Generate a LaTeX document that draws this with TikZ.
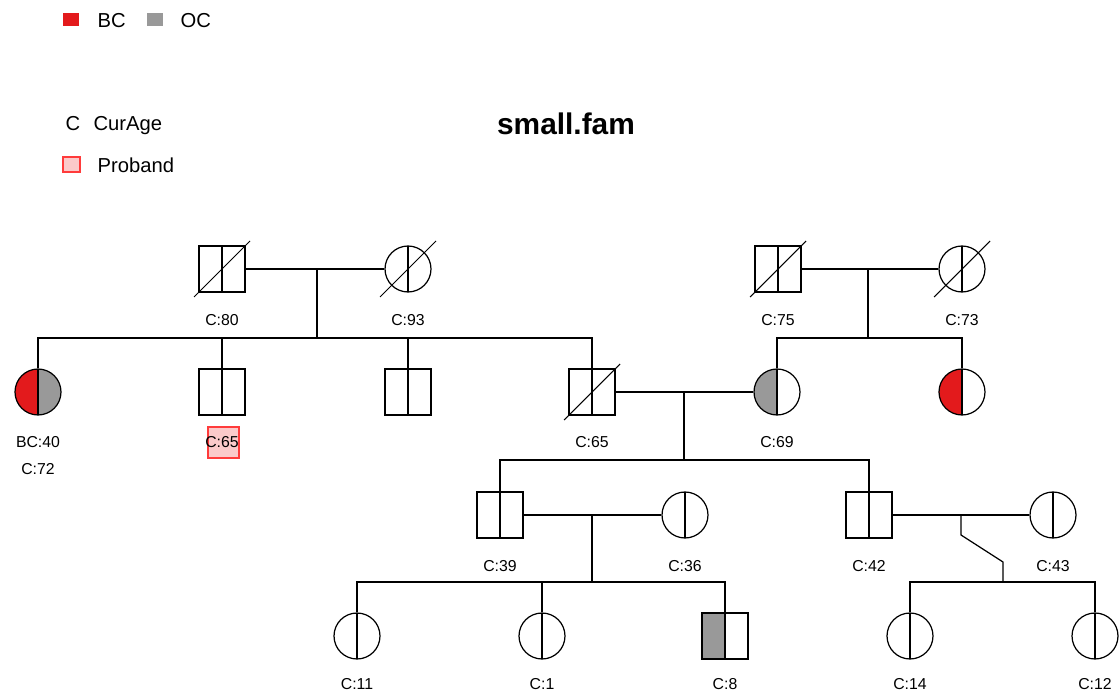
\documentclass[tikz,border=0pt]{standalone}
\usepackage{fontspec}
\setmainfont{Liberation Sans}
\usepackage{tikz}
\usetikzlibrary{positioning}
\usepackage{xcolor}
\definecolor{bcred}{HTML}{E31A1C}
\definecolor{ocgrey}{HTML}{999999}
\definecolor{probred}{HTML}{FF3B3B}
\definecolor{probpink}{HTML}{FBCACA}

\begin{document}
\begin{tikzpicture}[x=0.02cm, y=-0.02cm, line width=0.7pt]
        % ================= 样式定义 =================
        \tikzset{
            % 男性 (方形, 中间竖线)
            male/.style={rectangle, draw=black, fill=white, minimum size=0.92cm, inner sep=0pt,
                path picture={\draw (path picture bounding box.north) -- (path picture bounding box.south);}},
            % 女性 (圆形, 中间竖线)
            female/.style={circle, draw=black, fill=white, minimum size=0.92cm, inner sep=0pt,
                path picture={\draw (path picture bounding box.north) -- (path picture bounding box.south);}},
            % 左右两半着色
            halves/.style 2 args={path picture={
                \fill[#1] (path picture bounding box.south west) rectangle (path picture bounding box.north);
                \fill[#2] (path picture bounding box.south) rectangle (path picture bounding box.north east);
                \draw (path picture bounding box.north) -- (path picture bounding box.south);}},
            % 已故斜线
            dead/.style={black, line width=0.6pt},
            % 年龄标签
            lab/.style={font=\fontsize{9}{10}\selectfont, inner sep=0pt},
            % 图例
            leg/.style={font=\fontsize{11.5}{13}\selectfont, anchor=base west, inner sep=0pt},
            legbox/.style={rectangle, inner sep=0pt, minimum width=0.32cm, minimum height=0.26cm}
        }

        \useasboundingbox (0,0) rectangle (1119,692);

        % ================= 图例与标题 =================
        \node[legbox, fill=bcred] (kbc) at (71,20) {};
        \node[leg] (tbc) at (97,28) {BC};
        \node[legbox, fill=ocgrey] (koc) at (155,20) {};
        \node[leg] (toc) at (180,28) {OC};
        \node[leg] (kc) at (65,131) {C};
        \node[leg] (tc) at (93,131) {CurAge};
        \node[legbox, draw=probred, fill=probpink, minimum width=0.34cm, minimum height=0.3cm] (kpb) at (71.5,164.5) {};
        \node[leg] (tpb) at (97,173) {Proband};
        \node[font=\bfseries\fontsize{17}{20}\selectfont] (title) at (566,124) {small.fam};

        % ================= 第一代 =================
        \node[male] (gf1) at (222,269) {};
        \node[female] (gm1) at (408,269) {};
        \node[male] (gf2) at (778,269) {};
        \node[female] (gm2) at (962,269) {};

        % ================= 第二代 =================
        \node[female, halves={bcred}{ocgrey}] (a1) at (38,392) {};
        \node[male] (a2) at (222,392) {};
        \node[male] (a3) at (408,392) {};
        \node[male] (a4) at (592,392) {};
        \node[female, halves={ocgrey}{white}] (b1) at (777,392) {};
        \node[female, halves={bcred}{white}] (b2) at (962,392) {};

        % ================= 第三代 =================
        \node[male] (c1) at (500,515) {};
        \node[female] (c1w) at (685,515) {};
        \node[male] (c2) at (869,515) {};
        \node[female] (c2w) at (1053,515) {};

        % ================= 第四代 =================
        \node[female] (e1) at (357,636) {};
        \node[female] (e2) at (542,636) {};
        \node[male, halves={ocgrey}{white}] (e3) at (725,636) {};
        \node[female] (e4) at (910,636) {};
        \node[female] (e5) at (1095,636) {};

        % 已故者斜线
        \foreach \p in {gf1,gm1,gf2,gm2,a4}
            \draw[dead] ([shift={(-28,28)}]\p.center) -- ([shift={(28,-28)}]\p.center);

        % ================= 连线 =================
        % 左侧祖父母
        \coordinate (m1) at (317,269);
        \coordinate (s1) at (317,338);
        \draw (gf1) -- (gm1);
        \draw (m1) -- (s1);
        \draw (a1.north) |- (a4.north |- s1) -- (a4.north);
        \draw (a2.north) -- (a2.north |- s1);
        \draw (a3.north) -- (a3.north |- s1);

        % 右侧祖父母
        \coordinate (m2) at (868,269);
        \coordinate (s2) at (868,338);
        \draw (gf2) -- (gm2);
        \draw (m2) -- (s2);
        \draw (b1.north) |- (b2.north |- s2) -- (b2.north);

        % 父母 a4 x b1
        \coordinate (m3) at (684,392);
        \coordinate (s3) at (684,460);
        \draw (a4) -- (b1);
        \draw (m3) -- (s3);
        \draw (c1.north) |- (c2.north |- s3) -- (c2.north);

        % c1 x c1w
        \coordinate (m4) at (592,515);
        \coordinate (s4) at (592,582);
        \draw (c1) -- (c1w);
        \draw (m4) -- (s4);
        \draw (e1.north) |- (e3.north |- s4) -- (e3.north);
        \draw (e2.north) -- (e2.north |- s4);

        % c2 x c2w (折线)
        \coordinate (m5) at (961,515);
        \coordinate (k5) at (961,535);
        \coordinate (j5) at (1003,562);
        \coordinate (s5) at (1003,582);
        \draw (c2) -- (c2w);
        \draw (m5) -- (k5) -- (j5) -- (s5);
        \draw (e4.north) |- (e5.north |- s5) -- (e5.north);

        % ================= 标签 =================
        \node[legbox, draw=probred, fill=probpink, minimum size=0.62cm] (pbox) at (223.5,442.5) {};
        \node[lab, below=0.42cm of gf1] (lgf1) {C:80};
        \node[lab, below=0.42cm of gm1] (lgm1) {C:93};
        \node[lab, below=0.42cm of gf2] (lgf2) {C:75};
        \node[lab, below=0.42cm of gm2] (lgm2) {C:73};
        \node[lab, below=0.4cm of a1] (la1) {BC:40};
        \node[lab, below=0.3cm of la1] (la1b) {C:72};
        \node[lab, below=0.4cm of a2] (la2) {C:65};
        \node[lab, below=0.4cm of a4] (la4) {C:65};
        \node[lab, below=0.4cm of b1] (lb1) {C:69};
        \node[lab, below=0.42cm of c1] (lc1) {C:39};
        \node[lab, below=0.42cm of c1w] (lc1w) {C:36};
        \node[lab, below=0.42cm of c2] (lc2) {C:42};
        \node[lab, below=0.42cm of c2w] (lc2w) {C:43};
        \node[lab, below=0.36cm of e1] (le1) {C:11};
        \node[lab, below=0.36cm of e2] (le2) {C:1};
        \node[lab, below=0.36cm of e3] (le3) {C:8};
        \node[lab, below=0.36cm of e4] (le4) {C:14};
        \node[lab, below=0.36cm of e5] (le5) {C:12};

    \end{tikzpicture}
\end{document}
